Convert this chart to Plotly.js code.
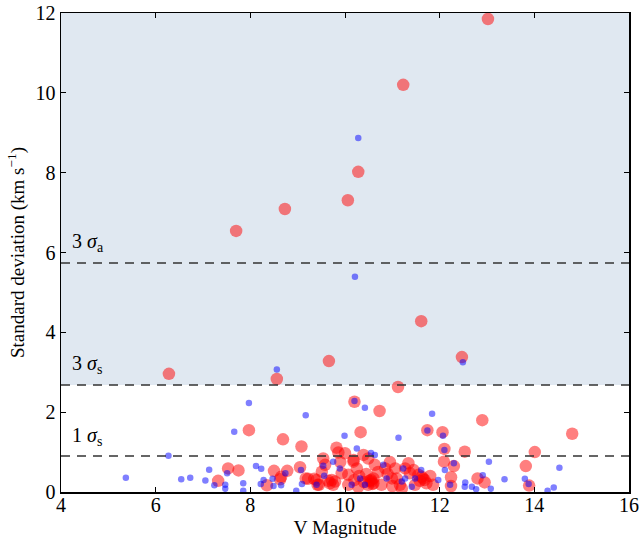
<!DOCTYPE html>
<html>
<head>
<meta charset="utf-8">
<script src="https://cdn.plot.ly/plotly-3.0.1.min.js"></script>
<style>
  html, body { margin: 0; padding: 0; background: #fff; }
  #chart { width: 641px; height: 544px; }
</style>
</head>
<body>
<div id="chart"></div>
<script>
// Stars measured with many epochs (large red) — V magnitude and RV standard deviation
const redV = [13.02, 11.23, 10.28, 10.06, 8.73, 7.70, 11.61, 12.47, 9.66, 6.28, 8.56, 11.12,
  10.20, 10.73, 12.90, 14.80, 10.33, 11.74, 12.06, 7.97, 8.69, 9.08, 9.82, 12.10, 12.53, 14.01,
  13.82, 13.89, 12.80, 12.95, 12.24, 12.24, 12.09, 12.30,
  7.53, 7.75, 7.32, 8.35, 8.50, 8.65, 8.78, 8.63, 9.05, 9.17, 9.22, 9.40, 9.42,
  10.00, 9.54, 9.58, 9.51, 9.45, 9.79, 9.75, 9.93, 10.07, 10.18, 10.25, 10.49, 10.63, 10.56,
  10.60, 10.49, 10.85, 11.06, 10.99, 11.16, 10.07, 10.28, 10.77, 10.39, 9.86, 10.18, 9.35,
  10.55, 10.60, 10.90, 10.30, 11.34, 11.27, 11.37, 11.09, 11.20, 11.55, 11.65, 11.72, 11.86,
  11.48, 10.52, 10.58, 11.68, 11.62, 9.72, 9.68, 9.65,
  10.45, 10.70, 10.20, 11.45, 11.80, 9.90, 10.95, 11.00, 10.40, 11.58];
const redSigma = [11.85, 10.20, 8.02, 7.31, 7.09, 6.54, 4.28, 3.38, 3.28, 2.96, 2.83, 2.63,
  2.26, 2.03, 1.80, 1.46, 1.50, 1.55, 1.50, 1.55, 1.32, 1.14, 1.11, 1.08, 1.01, 1.00,
  0.65, 0.16, 0.34, 0.24, 0.37, 0.15, 0.76, 0.65,
  0.59, 0.54, 0.28, 0.17, 0.53, 0.38, 0.53, 0.32, 0.62, 0.34, 0.33, 0.30, 0.18,
  0.97, 0.84, 0.68, 0.51, 0.18, 0.26, 0.18, 0.47, 0.43, 0.76, 0.59, 0.84, 0.68, 0.26,
  0.34, 0.18, 0.59, 0.59, 0.34, 0.18, 0.18, 0.13, 0.18, 0.93, 0.99, 0.80, 0.33,
  0.30, 0.22, 0.45, 0.40, 0.72, 0.59, 0.47, 0.34, 0.09, 0.43, 0.34, 0.22, 0.18,
  0.18, 0.28, 0.20, 0.30, 0.38, 0.30, 0.22, 0.28,
  0.45, 0.50, 0.30, 0.55, 0.40, 0.75, 0.75, 0.15, 0.25, 0.28];

// Stars with few epochs (small blue)
const blueV = [10.28, 10.21, 8.56, 12.49, 7.97, 9.17, 10.42, 11.84, 7.66, 9.99, 11.13, 11.74,
  12.07, 10.20, 10.25, 6.27, 10.55, 5.37, 7.13, 6.54, 6.73, 7.05, 7.24, 7.47, 7.47, 7.85,
  7.85, 8.12, 8.23, 8.22, 8.47, 8.49, 8.65, 9.07, 8.97, 9.09, 9.56, 7.51, 8.28, 8.74,
  13.04, 13.37, 13.80, 14.53, 14.41, 14.28, 12.54, 12.53, 12.68, 12.77, 12.91, 13.08, 13.88,
  12.30, 12.11, 11.61, 11.27, 11.41, 12.22, 11.97, 11.48,
  9.89, 9.54, 9.40, 10.32, 10.88, 10.81, 10.42, 10.14, 11.20, 11.23, 10.63, 9.75, 12.10];
const blueSigma = [8.87, 5.39, 3.07, 3.25, 2.23, 1.92, 2.11, 1.96, 1.51, 1.41, 1.36, 1.54,
  1.41, 2.28, 1.09, 0.91, 0.98, 0.36, 0.56, 0.32, 0.36, 0.29, 0.17, 0.18, 0.08, 0.22,
  0.03, 0.65, 0.58, 0.20, 0.33, 0.15, 0.17, 0.55, 0.03, 0.20, 0.41, 0.47, 0.30, 0.47,
  0.76, 0.32, 0.33, 0.61, 0.11, 0.03, 0.24, 0.13, 0.13, 0.07, 0.42, 0.08, 0.20,
  0.72, 0.55, 0.55, 0.34, 0.13, 0.18, 0.30, 0.34,
  0.59, 0.66, 0.18, 0.34, 0.34, 0.68, 0.18, 0.18, 0.26, 0.59, 0.93, 0.76, 1.05];

// Threshold levels (km/s)
const threeSigmaA = 5.74;
const threeSigmaS = 2.68;
const oneSigmaS = 0.90;

const xRange = [4, 16];
const yRange = [0, 12];
const xTicks = [4, 6, 8, 10, 12, 14, 16];
const yTicks = [0, 2, 4, 6, 8, 10, 12];

const serif = '"Liberation Serif", "DejaVu Serif", serif';

const traces = [
  {
    x: redV, y: redSigma, type: 'scatter', mode: 'markers',
    marker: { size: 12.5, color: 'rgba(255,0,0,0.5)', line: { width: 0 } },
    hoverinfo: 'skip', showlegend: false
  },
  {
    x: blueV, y: blueSigma, type: 'scatter', mode: 'markers',
    marker: { size: 6.5, color: 'rgba(0,0,255,0.5)', line: { width: 0 } },
    hoverinfo: 'skip', showlegend: false
  }
];

function hline(y) {
  return {
    type: 'line', xref: 'paper', yref: 'y', x0: 0, x1: 1, y0: y, y1: y,
    line: { color: '#333333', width: 1.5, dash: '9px,7px' }, layer: 'above'
  };
}

const layout = {
  width: 641, height: 544,
  margin: { l: 61, r: 12, t: 13, b: 52 },
  paper_bgcolor: '#ffffff',
  plot_bgcolor: '#ffffff',
  font: { family: serif, color: '#000000', size: 20 },
  xaxis: {
    range: xRange, tickvals: xTicks, ticktext: xTicks.map(String),
    ticks: 'inside', ticklen: 5, tickwidth: 1, tickcolor: '#000',
    ticklabelstandoff: -6,
    showline: true, linecolor: '#000', linewidth: 1.5, mirror: 'allticks',
    showgrid: false, zeroline: false,
    tickfont: { family: serif, size: 20 },
    title: { text: 'V Magnitude', font: { family: serif, size: 19.5 }, standoff: 6 }
  },
  yaxis: {
    range: yRange, tickvals: yTicks, ticktext: yTicks.map(String),
    ticks: 'inside', ticklen: 5, tickwidth: 1, tickcolor: '#000',
    showline: true, linecolor: '#000', linewidth: 1.5, mirror: 'allticks',
    showgrid: false, zeroline: false,
    tickfont: { family: serif, size: 20 },
    title: { text: 'Standard deviation (km s<sup>−1</sup>)', font: { family: serif, size: 19 }, standoff: 6 }
  },
  shapes: [
    {
      type: 'rect', xref: 'paper', yref: 'y', x0: 0, x1: 1, y0: threeSigmaS, y1: yRange[1],
      fillcolor: 'rgb(224,232,241)', line: { width: 0 }, layer: 'below'
    },
    hline(threeSigmaA), hline(threeSigmaS), hline(oneSigmaS)
  ],
  annotations: [
    { x: 4.2, y: 6.24, text: '3 <i>σ</i><sub>a</sub>' },
    { x: 4.2, y: 3.2, text: '3 <i>σ</i><sub>s</sub>' },
    { x: 4.2, y: 1.4, text: '1 <i>σ</i><sub>s</sub>' }
  ].map(a => Object.assign({
    xref: 'x', yref: 'y', xanchor: 'left', yanchor: 'middle', showarrow: false,
    font: { family: serif, size: 20, color: '#000' }
  }, a))
};

Plotly.newPlot('chart', traces, layout, { displayModeBar: false, staticPlot: true });
</script>
</body>
</html>
